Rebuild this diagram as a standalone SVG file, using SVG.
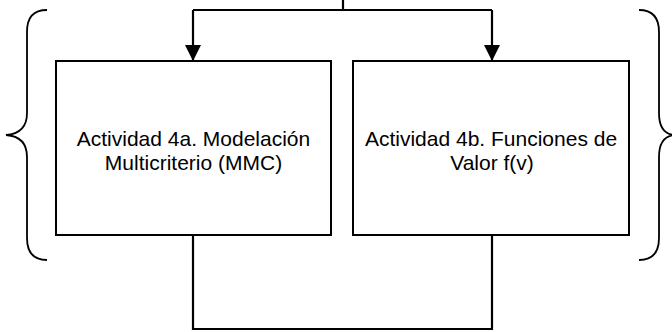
<svg xmlns="http://www.w3.org/2000/svg" width="672" height="332" viewBox="0 0 672 332">
<style>
.box{fill:#fff;stroke:#000;stroke-width:2}
.line{fill:none;stroke:#000;stroke-width:2.2}
.brace{fill:none;stroke:#000;stroke-width:1.8}
.lbl{font-family:"Liberation Sans",Arial,sans-serif;font-size:21px;fill:#000;text-anchor:middle}
</style>
<defs>
<marker id="arr" markerWidth="16" markerHeight="16" refX="16" refY="8" orient="auto" markerUnits="userSpaceOnUse">
<path d="M0,0 L16,8 L0,16 Z" fill="#000"/>
</marker>
</defs>
<rect width="672" height="332" fill="#fff"/>
<g id="brace-left"><path class="brace" d="M47,10 C33,10 27,18 27,32 L27,113 C27,126 20,134 6,135 C20,136 27,144 27,157 L27,238 C27,252 33,260 47,260"/></g>
<g id="brace-right"><path class="brace" d="M639,10 C653,10 659,18 659,32 L659,113 C659,126 664,134 674,135 C664,136 659,144 659,157 L659,238 C659,252 653,260 639,260"/></g>
<g id="connectors">
<polyline class="line" points="343,0 343,10"/>
<polyline class="line" points="193,10 492,10"/>
<line class="line" x1="193" y1="10" x2="193" y2="61" marker-end="url(#arr)"/>
<line class="line" x1="492" y1="10" x2="492" y2="61" marker-end="url(#arr)"/>
<polyline class="line" points="193,235 193,329 492,329 492,235"/>
</g>
<g id="node-4a">
<rect class="box" x="56" y="61" width="275" height="174"/>
<text class="lbl" x="193.5" y="145.5">Actividad 4a. Modelación</text>
<text class="lbl" x="193.5" y="170">Multicriterio (MMC)</text>
</g>
<g id="node-4b">
<rect class="box" x="353" y="61" width="276" height="174"/>
<text class="lbl" x="491" y="145.5">Actividad 4b. Funciones de</text>
<text class="lbl" x="492" y="170">Valor f(v)</text>
</g>
</svg>
